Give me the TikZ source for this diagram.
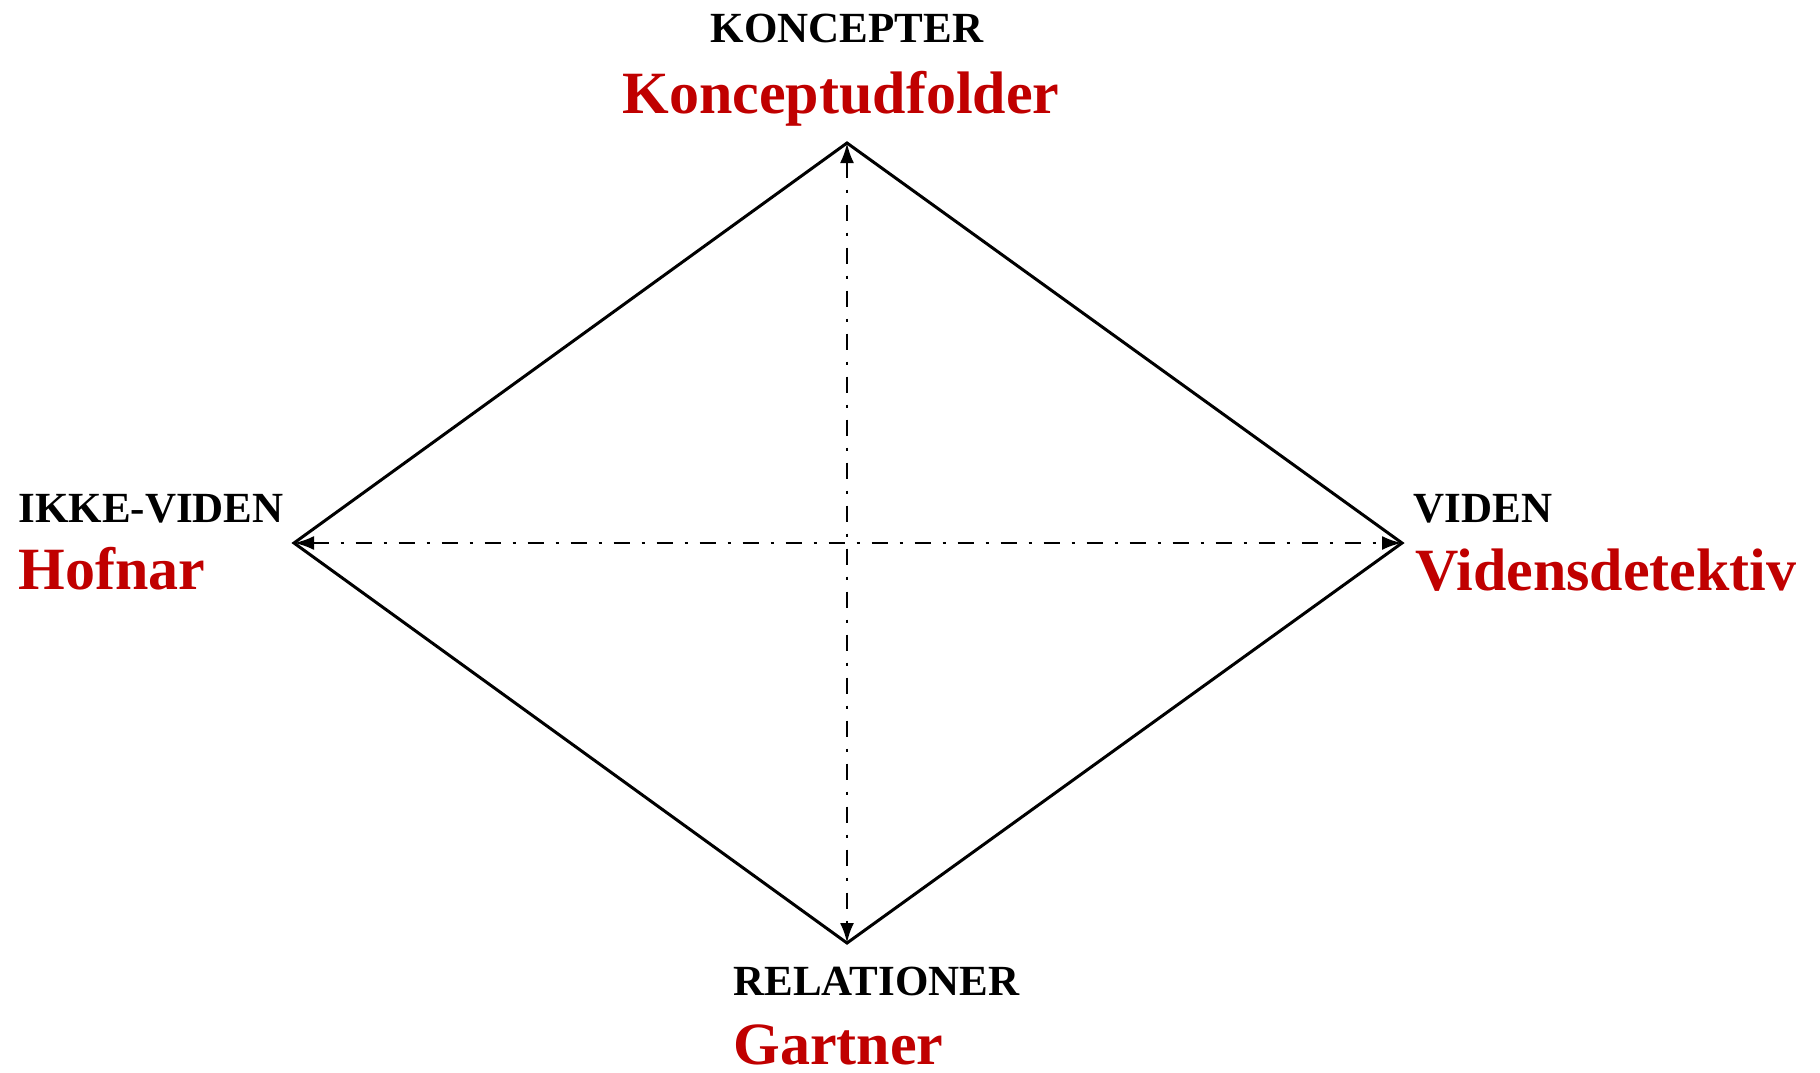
\documentclass[tikz,border=0pt]{standalone}
\usepackage{fontspec}
\setmainfont{Liberation Serif}
\usetikzlibrary{arrows.meta}
\definecolor{rodtekst}{RGB}{192,0,0}

\tikzset{every picture/.style={line width=1.5pt}}
\tikzset{
  titel/.style={inner sep=0pt,font=\fontsize{21.5}{24}\selectfont\bfseries},
  rolle/.style={inner sep=0pt,text=rodtekst,font=\fontsize{30}{34}\selectfont\bfseries},
  akse/.style={line width=1.4pt,dash pattern=on 8pt off 6pt on 1.5pt off 6pt,
    {Latex[length=10pt,width=7pt]}-{Latex[length=10pt,width=7pt]}}
}

\begin{document}
\begin{tikzpicture}[x=0.5pt,y=0.5pt,yscale=-1,xscale=1]
\useasboundingbox (0,0) rectangle (1820,1072);

% hjoerner
\coordinate (top) at (847,143);
\coordinate (hojre) at (1402,543);
\coordinate (bund) at (847,943);
\coordinate (venstre) at (294,543);

\draw (top) -- (hojre) -- (bund) -- (venstre) -- cycle ;

\draw [akse] (venstre) -- (hojre) ;
\draw [akse] (top) -- (bund) ;

\draw (847,42) node [anchor=base] [titel] (koncepter) {KONCEPTER};
\draw (841,113) node [anchor=base] [rolle] (konceptudfolder) {Konceptudfolder};

\draw (17,522) node [anchor=base west] [titel] (ikkeviden) {IKKE-VIDEN};
\draw (17,589) node [anchor=base west] [rolle] (hofnar) {Hofnar};

\draw (1412,522) node [anchor=base west] [titel] (viden) {VIDEN};
\draw (1414,590) node [anchor=base west] [rolle] (detektiv) {Vidensdetektiv};

\draw (732,995) node [anchor=base west] [titel] (relationer) {RELATIONER};
\draw (732,1064) node [anchor=base west] [rolle] (gartner) {Gartner};

\end{tikzpicture}
\end{document}
